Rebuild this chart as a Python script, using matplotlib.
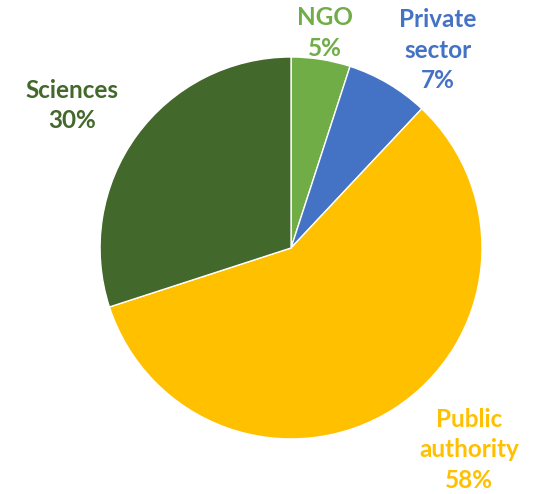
import numpy as np
import matplotlib.pyplot as plt

# share of respondents by sector
sectors = ["NGO", "Private\nsector", "Public\nauthority", "Sciences"]
shares = [5, 7, 58, 30]
colours = ["#70AD47", "#4472C4", "#FFC000", "#43682B"]

# how far out each label sits (in radii) and a small angle nudge (deg)
label_r = [1.14, 1.29, 1.41, 1.37]
label_nudge = [0, 6, -9, -3]

plt.rcParams['font.family'] = ['Lato', 'DejaVu Sans']

fig = plt.figure(figsize=(5.37, 4.94), dpi=100)
ax = fig.add_axes([0, 0, 1, 1])

wedges, _ = ax.pie(shares, colors=colours, startangle=90, counterclock=False,
                   wedgeprops=dict(edgecolor="white", linewidth=1))

for w, name, val, col, r, nudge in zip(wedges, sectors, shares, colours, label_r, label_nudge):
    mid = np.deg2rad((w.theta1 + w.theta2) / 2 - nudge)
    ax.text(r * np.cos(mid), r * np.sin(mid), f"{name}\n{val}%", color=col,
            fontsize=17.5, fontweight="bold", ha="center", va="center", linespacing=1.4)

# put the centre of the pie where it sits in the original picture
ax.set_xlim(-1.524, 1.288)
ax.set_ylim(-1.288, 1.298)
ax.axis("off")

fig.savefig("out.png", dpi=100)
